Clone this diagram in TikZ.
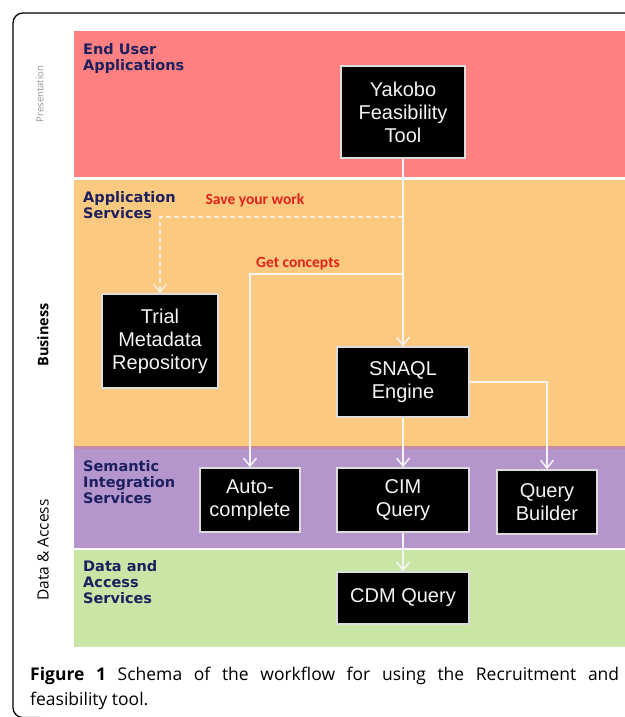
\documentclass[tikz,border=0pt]{standalone}
\usepackage{fontspec}
\usetikzlibrary{arrows.meta}
\newfontfamily\boxfont{Liberation Sans}
\newfontfamily\bandfont{DejaVu Sans}
\newfontfamily\redfont{Carlito}
\newfontfamily\capfont{Open Sans}
\definecolor{bandred}{HTML}{FF8080}
\definecolor{bandorange}{HTML}{FBC97F}
\definecolor{bandpurple}{HTML}{B496CD}
\definecolor{bandgreen}{HTML}{C9E6A7}
\definecolor{bandstrip}{HTML}{C48CA4}
\definecolor{navy}{HTML}{1C205E}
\definecolor{redtext}{HTML}{E2231A}
\definecolor{boxborder}{HTML}{DCDCDC}
\definecolor{arrowcol}{HTML}{F4F4F4}
\definecolor{dashcol}{HTML}{F6EEDF}
\tikzset{
  blackbox/.style={draw=boxborder, line width=1.5pt, fill=black, text=arrowcol,
    font=\boxfont\fontsize{20}{23}\selectfont, align=center, inner sep=0pt},
  bandlabel/.style={anchor=north west, inner sep=0pt, align=left, text=navy,
    font=\bandfont\bfseries\fontsize{14.5}{16}\selectfont},
  redlabel/.style={inner sep=0pt, text=redtext, font=\redfont\bfseries\fontsize{15.5}{18}\selectfont},
  arr/.style={draw=arrowcol, line width=1.5pt, -{Straight Barb[length=8pt,width=13pt,line width=1.5pt]}},
  dasharr/.style={draw=dashcol, line width=1.5pt, dash pattern=on 5pt off 3pt,
    -{Straight Barb[length=8pt,width=13pt,line width=1.5pt]}},
  sidelabel/.style={rotate=90, inner sep=0pt, font=\capfont}
}
\begin{document}
\begin{tikzpicture}[x=1pt,y=-1pt]
\useasboundingbox (0,0) rectangle (624,717);
\fill[white] (0,0) rectangle (624,717);
% outer frame
\draw[line width=1.3pt, rounded corners=10pt] (40,717.6) -- (13,717.6) -- (13,13) -- (660,13);
% bands
\fill[bandred] (74,31) rectangle (630,177);
\fill[bandorange] (74,180) rectangle (630,447);
\fill[bandstrip] (74,446) rectangle (630,449);
\fill[bandpurple] (74,449) rectangle (630,548);
\fill[bandgreen] (74,550) rectangle (630,647);
% side labels
\node[sidelabel, text=black!42, font=\capfont\fontsize{9.5}{11}\selectfont] (lpres) at (40,94) {Presentation};
\node[sidelabel, font=\capfont\bfseries\fontsize{14.5}{16}\selectfont] (lbus) at (43,335) {Business};
\node[sidelabel, font=\capfont\fontsize{15.5}{17}\selectfont] (ldata) at (43,550) {Data \& Access};
% band labels
\node[bandlabel] (bl1) at (83,43) {End User\\Applications};
\node[bandlabel] (bl2) at (83,191) {Application\\Services};
\node[bandlabel] (bl3) at (83,460) {Semantic\\Integration\\Services};
\node[bandlabel] (bl4) at (83,560) {Data and\\Access\\Services};
% boxes
\node[blackbox, minimum width=124pt, minimum height=92pt] (yak) at (403,112) {Yakobo\\Feasibility\\Tool};
\node[blackbox, minimum width=116pt, minimum height=94pt] (tmr) at (160,341) {Trial\\Metadata\\Repository};
\node[blackbox, minimum width=132pt, minimum height=70pt] (snaql) at (403,382) {SNAQL\\Engine};
\node[blackbox, minimum width=100pt, minimum height=64pt] (auto) at (250,500) {Auto-\\complete};
\node[blackbox, minimum width=132pt, minimum height=64pt] (cim) at (403,500) {CIM\\Query};
\node[blackbox, minimum width=100pt, minimum height=64pt] (qb) at (547,502) {Query\\Builder};
\node[blackbox, minimum width=132pt, minimum height=52pt] (cdm) at (403,598) {CDM Query};
% connectors
\coordinate (sv) at (403,217);
\coordinate (gc) at (403,274);
\draw[dasharr] (sv) -| (tmr.north);
\draw[arr] (gc) -| (auto.north);
\draw[arr] (yak) -- (snaql);
\draw[arr] (snaql) -- (cim);
\draw[arr] (snaql.east) -| (qb.north);
\draw[arr] (cim) -- (cdm);
% red labels
\node[redlabel] (save) at (255,200) {Save your work};
\node[redlabel] (getc) at (298,264) {Get concepts};
% caption
\node[anchor=north west, inner sep=0pt, text width=589pt, align=justify,
  font=\capfont\fontsize{17.5}{25}\selectfont] (cap) at (30,667)
  {\textbf{Figure 1} Schema of the workflow for using the Recruitment and\linebreak feasibility tool.};
\end{tikzpicture}
\end{document}
